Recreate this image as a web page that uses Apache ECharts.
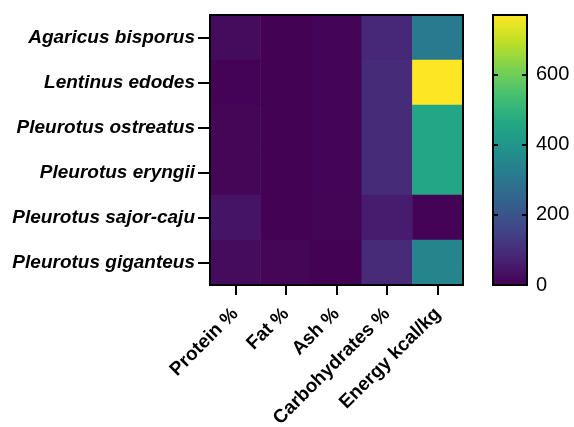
<!DOCTYPE html>
<html><head><meta charset="utf-8">
<script src="https://cdn.jsdelivr.net/npm/echarts@6/dist/echarts.min.js"></script>
<style>html,body{margin:0;padding:0;background:#fff}#c{width:574px;height:427px}</style>
</head><body><div id="c"></div>
<script>
var species = ['Agaricus bisporus','Lentinus edodes','Pleurotus ostreatus','Pleurotus eryngii','Pleurotus sajor-caju','Pleurotus giganteus'];
var nutrients = ['Protein %','Fat %','Ash %','Carbohydrates %','Energy kcal/kg'];
var protein = [24, 4, 10, 10, 42, 22];
var fat = [3, 3, 3, 3, 3, 10];
var ash = [7, 7, 7, 7, 8, 2];
var carbohydrates = [85, 95, 95, 95, 60, 92];
var energy = [315, 771, 455, 455, 5, 345];
var scaleMin = 0, scaleMax = 771;
var scaleTicks = [0, 200, 400, 600];
var viridis = ['#440154','#482475','#414487','#355f8d','#2a788e','#21918c','#22a884','#44bf70','#7ad151','#bddf26','#fde725'];

var columns = [protein, fat, ash, carbohydrates, energy];
var data = [];
columns.forEach(function(col, xi){ col.forEach(function(v, yi){ data.push([xi, yi, v]); }); });

var stops = viridis.map(function(c, i){ return {offset: 1 - i/(viridis.length-1), color: c}; });
var FF = 'Liberation Sans';
var chart = echarts.init(document.getElementById('c'));
chart.setOption({
  animation: false,
  grid: [
    {left: 210, top: 15, width: 253, height: 270, show: true, borderColor: '#000', borderWidth: 2, z: 10, containLabel: false, outerBoundsMode: 'none'},
    {left: 493, top: 15, width: 34, height: 270, show: true, borderColor: '#000', borderWidth: 2, z: 10, containLabel: false, outerBoundsMode: 'none'}
  ],
  xAxis: [
    {type: 'category', data: nutrients, gridIndex: 0, z: 10,
     axisLine: {show: false},
     axisTick: {show: true, alignWithLabel: true, length: 10, lineStyle: {color: '#000', width: 2}},
     axisLabel: {rotate: 45, color: '#000', fontFamily: FF, fontWeight: 'bold', fontSize: 19, margin: 26},
     splitLine: {show: false}},
    {type: 'category', data: ['cb'], gridIndex: 1, show: false}
  ],
  yAxis: [
    {type: 'category', data: species, inverse: true, gridIndex: 0, z: 10,
     axisLine: {show: false},
     axisTick: {show: true, alignWithLabel: true, length: 12, lineStyle: {color: '#000', width: 2}},
     axisLabel: {color: '#000', fontFamily: FF, fontWeight: 'bold', fontStyle: 'italic', fontSize: 19, margin: 15},
     splitLine: {show: false}},
    {type: 'value', gridIndex: 1, min: scaleMin, max: scaleMax, interval: 200, position: 'right', z: 10,
     axisLine: {show: false},
     axisTick: {show: true, inside: true, length: 5, lineStyle: {color: '#000', width: 2}},
     axisLabel: {color: '#000', fontFamily: FF, fontSize: 20, margin: 9, showMaxLabel: false,
       formatter: function(v){ return scaleTicks.indexOf(v) >= 0 ? String(v) : ''; }},
     splitLine: {show: false}},
    {type: 'value', gridIndex: 1, min: scaleMin, max: scaleMax, interval: 200, position: 'left', z: 10,
     axisLine: {show: false},
     axisTick: {show: true, inside: true, length: 5, lineStyle: {color: '#000', width: 2}},
     axisLabel: {show: false}, splitLine: {show: false}}
  ],
  visualMap: {show: false, type: 'continuous', seriesIndex: 0, min: scaleMin, max: scaleMax, inRange: {color: viridis}},
  series: [
    {type: 'heatmap', xAxisIndex: 0, yAxisIndex: 0, data: data, itemStyle: {borderWidth: 0}},
    {type: 'bar', xAxisIndex: 1, yAxisIndex: 1, data: [scaleMax], barWidth: '100%',
     itemStyle: {color: {type: 'linear', x: 0, y: 0, x2: 0, y2: 1, colorStops: stops}}}
  ]
});
</script></body></html>
